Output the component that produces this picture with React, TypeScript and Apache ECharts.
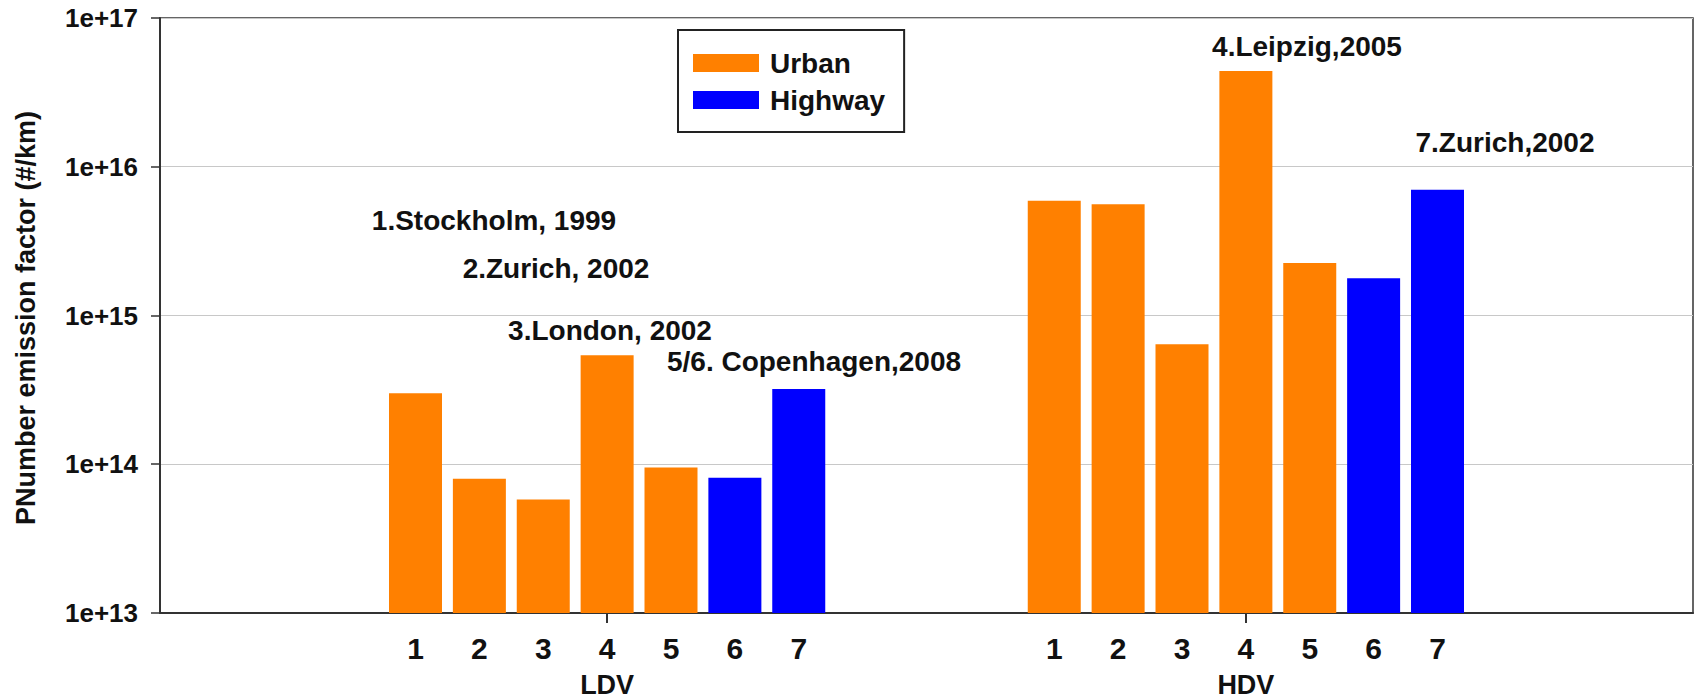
import React, { useEffect, useRef } from 'react';
import * as echarts from 'echarts';

// x positions (slots) – empty strings are spacing slots
const categories = ['', '', '', '', '1', '2', '3', '4', '5', '6', '7', '', '', '', '1', '2', '3', '4', '5', '6', '7', '', '', '', ''];
const groupLabels = ['', '', '', '', '', '', '', 'LDV', '', '', '', '', '', '', '', '', '', 'HDV', '', '', '', '', '', '', ''];

// values (#/km)
const ldvUrban = [3.0e14, 8.0e13, 5.8e13, 5.4e14, 9.5e13];
const ldvHighway = [8.1e13, 3.2e14];
const hdvUrban = [5.9e15, 5.6e15, 6.4e14, 4.4e16, 2.25e15];
const hdvHighway = [1.78e15, 7.0e15];

const yMin = 1e13;
const yMax = 1e17;
const yTitle = 'PNumber emission factor (#/km)';

const annotations = [
  { text: '1.Stockholm, 1999', x: 494, y: 220 },
  { text: '2.Zurich, 2002', x: 556, y: 268 },
  { text: '3.London, 2002', x: 610, y: 330 },
  { text: '5/6. Copenhagen,2008', x: 814, y: 361 },
  { text: '4.Leipzig,2005', x: 1307, y: 46 },
  { text: '7.Zurich,2002', x: 1505, y: 142 },
];

const FONT = '"Liberation Sans", Arial, Helvetica, sans-serif';
const TXT = '#111111';

function buildSeries(ldv: number[], ldvStart: number, hdv: number[], hdvStart: number) {
  const arr: (number | string)[] = categories.map(() => '-');
  ldv.forEach((v, i) => (arr[ldvStart + i] = v));
  hdv.forEach((v, i) => (arr[hdvStart + i] = v));
  return arr;
}

export default function App() {
  const ref = useRef<HTMLDivElement>(null);
  useEffect(() => {
    document.body.style.margin = '0';
    if (!ref.current) return;
    const chart = echarts.init(ref.current, null, { renderer: 'svg' });
    const ldvStart = categories.indexOf('1');
    const hdvStart = categories.lastIndexOf('1');
    const urban = buildSeries(ldvUrban, ldvStart, hdvUrban, hdvStart);
    const highway = buildSeries(ldvHighway, ldvStart + ldvUrban.length, hdvHighway, hdvStart + hdvUrban.length);

    chart.setOption({
      animation: false,
      backgroundColor: '#ffffff',
      grid: {
        left: 160,
        right: 5,
        top: 18,
        bottom: 84,
        show: true,
        borderColor: '#333333',
        borderWidth: 1.5,
        backgroundColor: 'transparent',
      },
      legend: {
        orient: 'vertical',
        left: 678,
        top: 30,
        data: ['Urban', 'Highway'],
        itemWidth: 66,
        itemHeight: 18,
        itemGap: 7,
        padding: [18, 19, 17, 15],
        borderColor: '#222222',
        borderWidth: 2,
        backgroundColor: '#ffffff',
        icon: 'rect',
        textStyle: { fontFamily: FONT, fontWeight: 'bold', fontSize: 28, color: TXT, lineHeight: 30, padding: [0, 0, 0, 6] },
      },
      xAxis: [
        {
          type: 'category',
          data: categories,
          boundaryGap: false,
          axisLine: { show: true, lineStyle: { color: '#333333', width: 2 } },
          axisTick: { show: false },
          axisLabel: { interval: 0, margin: 20, fontFamily: FONT, fontWeight: 'bold', fontSize: 30, color: TXT },
          splitLine: { show: false },
        },
        {
          type: 'category',
          data: groupLabels,
          boundaryGap: false,
          position: 'bottom',
          axisLine: { show: false },
          axisTick: {
            show: true,
            length: 10,
            interval: (_i: number, v: string) => v !== '',
            lineStyle: { color: '#333333', width: 2 },
          },
          axisLabel: { interval: 0, margin: 58, fontFamily: FONT, fontWeight: 'bold', fontSize: 27, color: TXT },
          splitLine: { show: false },
        },
      ],
      yAxis: {
        type: 'log',
        logBase: 10,
        min: yMin,
        max: yMax,
        axisLine: { show: true, lineStyle: { color: '#333333', width: 2 } },
        axisTick: { show: true, length: 9, lineStyle: { color: '#333333', width: 1.5 } },
        axisLabel: {
          margin: 22,
          fontFamily: FONT,
          fontWeight: 'bold',
          fontSize: 26,
          color: TXT,
          formatter: (v: number) => '1e+' + Math.round(Math.log10(v)),
        },
        splitLine: { show: true, lineStyle: { color: '#c8c8c8', width: 1 } },
        minorTick: { show: false },
      },
      series: [
        {
          name: 'Urban',
          type: 'bar',
          data: urban,
          barWidth: 53,
          barGap: '-100%',
          itemStyle: { color: '#ff8000' },
          xAxisIndex: 0,
        },
        {
          name: 'Highway',
          type: 'bar',
          data: highway,
          barWidth: 53,
          barGap: '-100%',
          itemStyle: { color: '#0000ff' },
          xAxisIndex: 0,
        },
      ],
      graphic: [
        {
          type: 'text',
          x: 26,
          y: 318,
          rotation: Math.PI / 2,
          z: 10,
          style: {
            text: yTitle,
            fontFamily: FONT,
            fontWeight: 'bold',
            fontSize: 27,
            fill: TXT,
            textAlign: 'center',
            textVerticalAlign: 'middle',
          },
        },
        ...annotations.map((a) => ({
          type: 'text',
          x: a.x,
          y: a.y,
          z: 10,
          style: {
            text: a.text,
            fontFamily: FONT,
            fontWeight: 'bold',
            fontSize: 28,
            fill: TXT,
            textAlign: 'center',
            textVerticalAlign: 'middle',
          },
        })),
      ],
    });
    return () => chart.dispose();
  }, []);
  return <div ref={ref} style={{ width: 1698, height: 698 }} />;
}
